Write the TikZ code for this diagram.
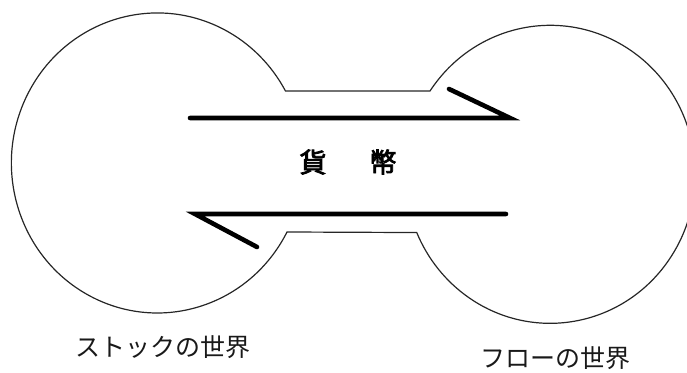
\documentclass[tikz,border=0pt]{standalone}
\usepackage{fontspec}
\newfontfamily\cjk{Noto Sans CJK JP}
\newfontfamily\cjkbold[FakeBold=3]{Noto Sans CJK JP}
\begin{document}
\begin{tikzpicture}[x=1pt,y=1pt,
  outline/.style={draw=black!85, line width=1.2pt},
  flow/.style={draw=black, line width=4.6pt, line cap=round, line join=miter},
  money/.style={font=\cjkbold\fontsize{27}{27}\selectfont, inner sep=0pt},
  world/.style={font=\cjk\fontsize{25}{25}\selectfont, text=black!90, inner sep=0pt}]
\useasboundingbox (0,0) rectangle (687,372);
\clip (0,0) rectangle (687,372);
% outline: two worlds joined by a neck
\draw[outline] (286,281) -- (430,281)
  arc[start angle=146, end angle=-157, x radius=145, y radius=149]
  -- (287,140)
  arc[start angle=-27.4, end angle=-331.3, x radius=146, y radius=150]
  -- cycle;
% flows
\coordinate (t1) at (190,254);
\coordinate (t2) at (510,254);
\coordinate (t3) at (449,283);
\coordinate (b1) at (506,158);
\coordinate (b2) at (195,158);
\coordinate (b3) at (257,125);
\draw[flow] (t1) -- (t2) -- (t3);
\draw[flow] (b1) -- (b2) -- (b3);
% labels
\node[money] (ka) at (313,210) {貨};
\node[money] (hei) at (383,210) {幣};
\node[world] (stock) at (163,25) {ストックの世界};
\node[world] (flowlab) at (555,14) {フローの世界};
\end{tikzpicture}
\end{document}
